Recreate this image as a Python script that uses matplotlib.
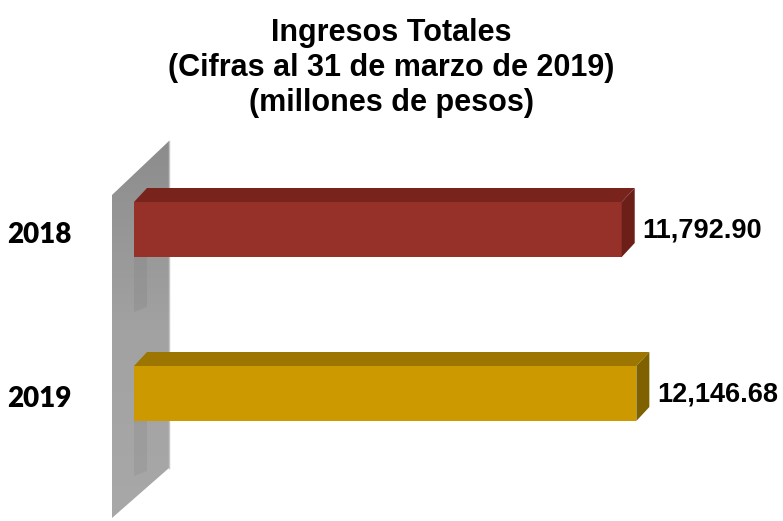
import numpy as np
import matplotlib.pyplot as plt
from matplotlib.colors import LinearSegmentedColormap
from matplotlib.patches import Polygon

# Datos
anios = ["2018", "2019"]
ingresos = [11792.90, 12146.68]
etiquetas = ["11,792.90", "12,146.68"]

# Colores de cada barra: frente, cara superior, cara lateral
c_frente = ["#963129", "#cc9900"]
c_arriba = ["#78241d", "#9c7600"]
c_lado = ["#6b1f18", "#806100"]

W, H = 783, 521
fig = plt.figure(figsize=(W / 100, H / 100), dpi=100)
ax = fig.add_axes([0, 0, 1, 1])
ax.axis("off")

# escala: pixeles -> datos (el 0 del eje x cae en x=134 px)
ux = 14000 / 579         # unidades por pixel en x
uy = 1 / 164             # unidades por pixel en y
xlim = (-134 * ux, (W - 134) * ux)
ylim = ((H - 229.5) * uy, -229.5 * uy)

def py(p):
    # pixel desde arriba -> dato y
    return (p - 229.5) * uy

# --- pared gris (fondo 3D), mas oscura arriba ---
pared = [(-22 * ux, py(195)), (35 * ux, py(141)), (35 * ux, py(468)), (-22 * ux, py(518))]
poly = Polygon(pared, closed=True, facecolor="none", edgecolor="none")
ax.add_patch(poly)
grad = np.linspace(0, 1, 256).reshape(-1, 1)
cmap = LinearSegmentedColormap.from_list("g", ["#a8a8a8", "#a2a2a2", "#8c8c8c"])
im = ax.imshow(grad, cmap=cmap, extent=(-22 * ux, 35 * ux, py(518), py(141)),
               origin="lower", aspect="auto", zorder=1)
im.set_clip_path(poly)
ax.plot([35 * ux, 35 * ux], [py(141), py(468)], color="#c4c4c4", lw=1, zorder=1)

# --- barras 3D ---
alto = 55 * uy
dx, dy = 13 * ux, -14 * uy
bars = ax.barh(range(len(anios)), ingresos, height=alto, color=c_frente, zorder=3)
for i, b in enumerate(bars):
    x0, y0 = b.get_x(), b.get_y()
    x1, y1 = x0 + b.get_width(), y0 + b.get_height()
    yc = y0 + b.get_height() / 2
    # sombra tenue sobre la pared
    ax.add_patch(Polygon([(x0, y1), (x0 + dx, y1 + dy), (x0 + dx, y1 + 50 * uy), (x0, y1 + 55 * uy)],
                         facecolor="black", alpha=0.05, edgecolor="none", zorder=2))
    ax.add_patch(Polygon([(x0, y0), (x0 + dx, y0 + dy), (x1 + dx, y0 + dy), (x1, y0)],
                         facecolor=c_arriba[i], edgecolor="none", zorder=3))
    ax.add_patch(Polygon([(x1, y0), (x1 + dx, y0 + dy), (x1 + dx, y1 + dy), (x1, y1)],
                         facecolor=c_lado[i], edgecolor="none", zorder=3))
    ax.annotate(etiquetas[i], (x1, yc), xytext=(21, -1),
                textcoords="offset pixels", va="center", ha="left",
                fontsize=19.5, fontweight="bold", family="Liberation Sans")
    # etiqueta de categoria
    ax.annotate(anios[i], (x0, yc), xytext=(-62, -6),
                textcoords="offset pixels", va="center", ha="right",
                fontsize=20, fontweight="heavy", family="Lato")

ax.set_xlim(*xlim)
ax.set_ylim(*ylim)

fig.text(0.5, 1 - 18 / H, "Ingresos Totales\n(Cifras al 31 de marzo de 2019)\n(millones de pesos)",
         ha="center", va="top", fontsize=22, fontweight="bold", family="Liberation Sans",
         linespacing=1.22)

fig.savefig("out.png", dpi=100)
